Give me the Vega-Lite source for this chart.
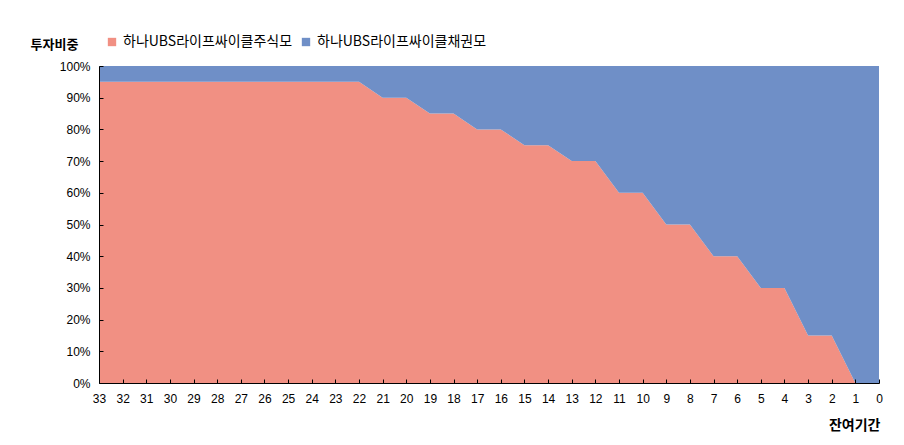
{
  "$schema": "https://vega.github.io/schema/vega-lite/v6.json",
  "autosize": {"type": "none"},
  "width": 780,
  "height": 317,
  "padding": {"left": 99, "top": 66, "right": 25, "bottom": 62},
  "background": "white",
  "config": {
    "view": {"stroke": null},
    "font": "Noto Sans CJK KR"
  },
  "data": {
    "values": [
      {"period": 33, "series": "하나UBS라이프싸이클주식모", "value": 95},
      {"period": 32, "series": "하나UBS라이프싸이클주식모", "value": 95},
      {"period": 31, "series": "하나UBS라이프싸이클주식모", "value": 95},
      {"period": 30, "series": "하나UBS라이프싸이클주식모", "value": 95},
      {"period": 29, "series": "하나UBS라이프싸이클주식모", "value": 95},
      {"period": 28, "series": "하나UBS라이프싸이클주식모", "value": 95},
      {"period": 27, "series": "하나UBS라이프싸이클주식모", "value": 95},
      {"period": 26, "series": "하나UBS라이프싸이클주식모", "value": 95},
      {"period": 25, "series": "하나UBS라이프싸이클주식모", "value": 95},
      {"period": 24, "series": "하나UBS라이프싸이클주식모", "value": 95},
      {"period": 23, "series": "하나UBS라이프싸이클주식모", "value": 95},
      {"period": 22, "series": "하나UBS라이프싸이클주식모", "value": 95},
      {"period": 21, "series": "하나UBS라이프싸이클주식모", "value": 90},
      {"period": 20, "series": "하나UBS라이프싸이클주식모", "value": 90},
      {"period": 19, "series": "하나UBS라이프싸이클주식모", "value": 85},
      {"period": 18, "series": "하나UBS라이프싸이클주식모", "value": 85},
      {"period": 17, "series": "하나UBS라이프싸이클주식모", "value": 80},
      {"period": 16, "series": "하나UBS라이프싸이클주식모", "value": 80},
      {"period": 15, "series": "하나UBS라이프싸이클주식모", "value": 75},
      {"period": 14, "series": "하나UBS라이프싸이클주식모", "value": 75},
      {"period": 13, "series": "하나UBS라이프싸이클주식모", "value": 70},
      {"period": 12, "series": "하나UBS라이프싸이클주식모", "value": 70},
      {"period": 11, "series": "하나UBS라이프싸이클주식모", "value": 60},
      {"period": 10, "series": "하나UBS라이프싸이클주식모", "value": 60},
      {"period": 9, "series": "하나UBS라이프싸이클주식모", "value": 50},
      {"period": 8, "series": "하나UBS라이프싸이클주식모", "value": 50},
      {"period": 7, "series": "하나UBS라이프싸이클주식모", "value": 40},
      {"period": 6, "series": "하나UBS라이프싸이클주식모", "value": 40},
      {"period": 5, "series": "하나UBS라이프싸이클주식모", "value": 30},
      {"period": 4, "series": "하나UBS라이프싸이클주식모", "value": 30},
      {"period": 3, "series": "하나UBS라이프싸이클주식모", "value": 15},
      {"period": 2, "series": "하나UBS라이프싸이클주식모", "value": 15},
      {"period": 1, "series": "하나UBS라이프싸이클주식모", "value": 0},
      {"period": 0, "series": "하나UBS라이프싸이클주식모", "value": 0},
      {"period": 33, "series": "하나UBS라이프싸이클채권모", "value": 5},
      {"period": 32, "series": "하나UBS라이프싸이클채권모", "value": 5},
      {"period": 31, "series": "하나UBS라이프싸이클채권모", "value": 5},
      {"period": 30, "series": "하나UBS라이프싸이클채권모", "value": 5},
      {"period": 29, "series": "하나UBS라이프싸이클채권모", "value": 5},
      {"period": 28, "series": "하나UBS라이프싸이클채권모", "value": 5},
      {"period": 27, "series": "하나UBS라이프싸이클채권모", "value": 5},
      {"period": 26, "series": "하나UBS라이프싸이클채권모", "value": 5},
      {"period": 25, "series": "하나UBS라이프싸이클채권모", "value": 5},
      {"period": 24, "series": "하나UBS라이프싸이클채권모", "value": 5},
      {"period": 23, "series": "하나UBS라이프싸이클채권모", "value": 5},
      {"period": 22, "series": "하나UBS라이프싸이클채권모", "value": 5},
      {"period": 21, "series": "하나UBS라이프싸이클채권모", "value": 10},
      {"period": 20, "series": "하나UBS라이프싸이클채권모", "value": 10},
      {"period": 19, "series": "하나UBS라이프싸이클채권모", "value": 15},
      {"period": 18, "series": "하나UBS라이프싸이클채권모", "value": 15},
      {"period": 17, "series": "하나UBS라이프싸이클채권모", "value": 20},
      {"period": 16, "series": "하나UBS라이프싸이클채권모", "value": 20},
      {"period": 15, "series": "하나UBS라이프싸이클채권모", "value": 25},
      {"period": 14, "series": "하나UBS라이프싸이클채권모", "value": 25},
      {"period": 13, "series": "하나UBS라이프싸이클채권모", "value": 30},
      {"period": 12, "series": "하나UBS라이프싸이클채권모", "value": 30},
      {"period": 11, "series": "하나UBS라이프싸이클채권모", "value": 40},
      {"period": 10, "series": "하나UBS라이프싸이클채권모", "value": 40},
      {"period": 9, "series": "하나UBS라이프싸이클채권모", "value": 50},
      {"period": 8, "series": "하나UBS라이프싸이클채권모", "value": 50},
      {"period": 7, "series": "하나UBS라이프싸이클채권모", "value": 60},
      {"period": 6, "series": "하나UBS라이프싸이클채권모", "value": 60},
      {"period": 5, "series": "하나UBS라이프싸이클채권모", "value": 70},
      {"period": 4, "series": "하나UBS라이프싸이클채권모", "value": 70},
      {"period": 3, "series": "하나UBS라이프싸이클채권모", "value": 85},
      {"period": 2, "series": "하나UBS라이프싸이클채권모", "value": 85},
      {"period": 1, "series": "하나UBS라이프싸이클채권모", "value": 100},
      {"period": 0, "series": "하나UBS라이프싸이클채권모", "value": 100}
    ]
  },
  "mark": {"type": "area", "interpolate": "linear", "opacity": 1},
  "encoding": {
    "x": {
      "field": "period",
      "type": "quantitative",
      "scale": {"domain": [0, 33], "reverse": true, "nice": false, "zero": false},
      "axis": {
        "values": [33,32,31,30,29,28,27,26,25,24,23,22,21,20,19,18,17,16,15,14,13,12,11,10,9,8,7,6,5,4,3,2,1,0],
        "format": "d",
        "grid": false,
        "zindex": 1,
        "labelFlush": false,
        "labelOverlap": false,
        "domainColor": "#000000",
        "domainWidth": 1,
        "tickColor": "#000000",
        "tickSize": -4,
        "labelPadding": 14,
        "labelFontSize": 12,
        "labelColor": "#000000",
        "labelFont": "Liberation Sans",
        "title": "잔여기간",
        "titleFontSize": 14,
        "titleFontWeight": "bold",
        "titleColor": "#000000",
        "titleAlign": "right",
        "titleBaseline": "middle",
        "titleX": 781,
        "titleY": 42
      }
    },
    "y": {
      "field": "value",
      "type": "quantitative",
      "stack": "zero",
      "scale": {"domain": [0, 100], "nice": false},
      "axis": {
        "values": [0,10,20,30,40,50,60,70,80,90,100],
        "labelExpr": "datum.value + '%'",
        "grid": false,
        "zindex": 1,
        "labelOverlap": false,
        "domainColor": "#000000",
        "tickColor": "#000000",
        "tickSize": -4,
        "labelPadding": 13,
        "labelFontSize": 12,
        "labelColor": "#000000",
        "labelFont": "Liberation Sans",
        "title": "투자비중",
        "titleAngle": 0,
        "titleFontSize": 13,
        "titleFontWeight": "bold",
        "titleColor": "#000000",
        "titleAlign": "left",
        "titleBaseline": "middle",
        "titleX": -69,
        "titleY": -22
      }
    },
    "color": {
      "field": "series",
      "type": "nominal",
      "scale": {
        "domain": ["하나UBS라이프싸이클주식모", "하나UBS라이프싸이클채권모"],
        "range": ["#F19083", "#6F8FC7"]
      },
      "legend": {
        "title": null,
        "orient": "none",
        "direction": "horizontal",
        "legendX": 6,
        "legendY": -31,
        "symbolType": "square",
        "symbolSize": 70,
        "symbolStrokeWidth": 0,
        "symbolOpacity": 1,
        "labelFontSize": 14,
        "labelColor": "#000000",
        "labelLimit": 300,
        "labelOffset": 4,
        "columnPadding": 6
      }
    },
    "order": {"field": "series", "sort": "ascending"}
  }
}
